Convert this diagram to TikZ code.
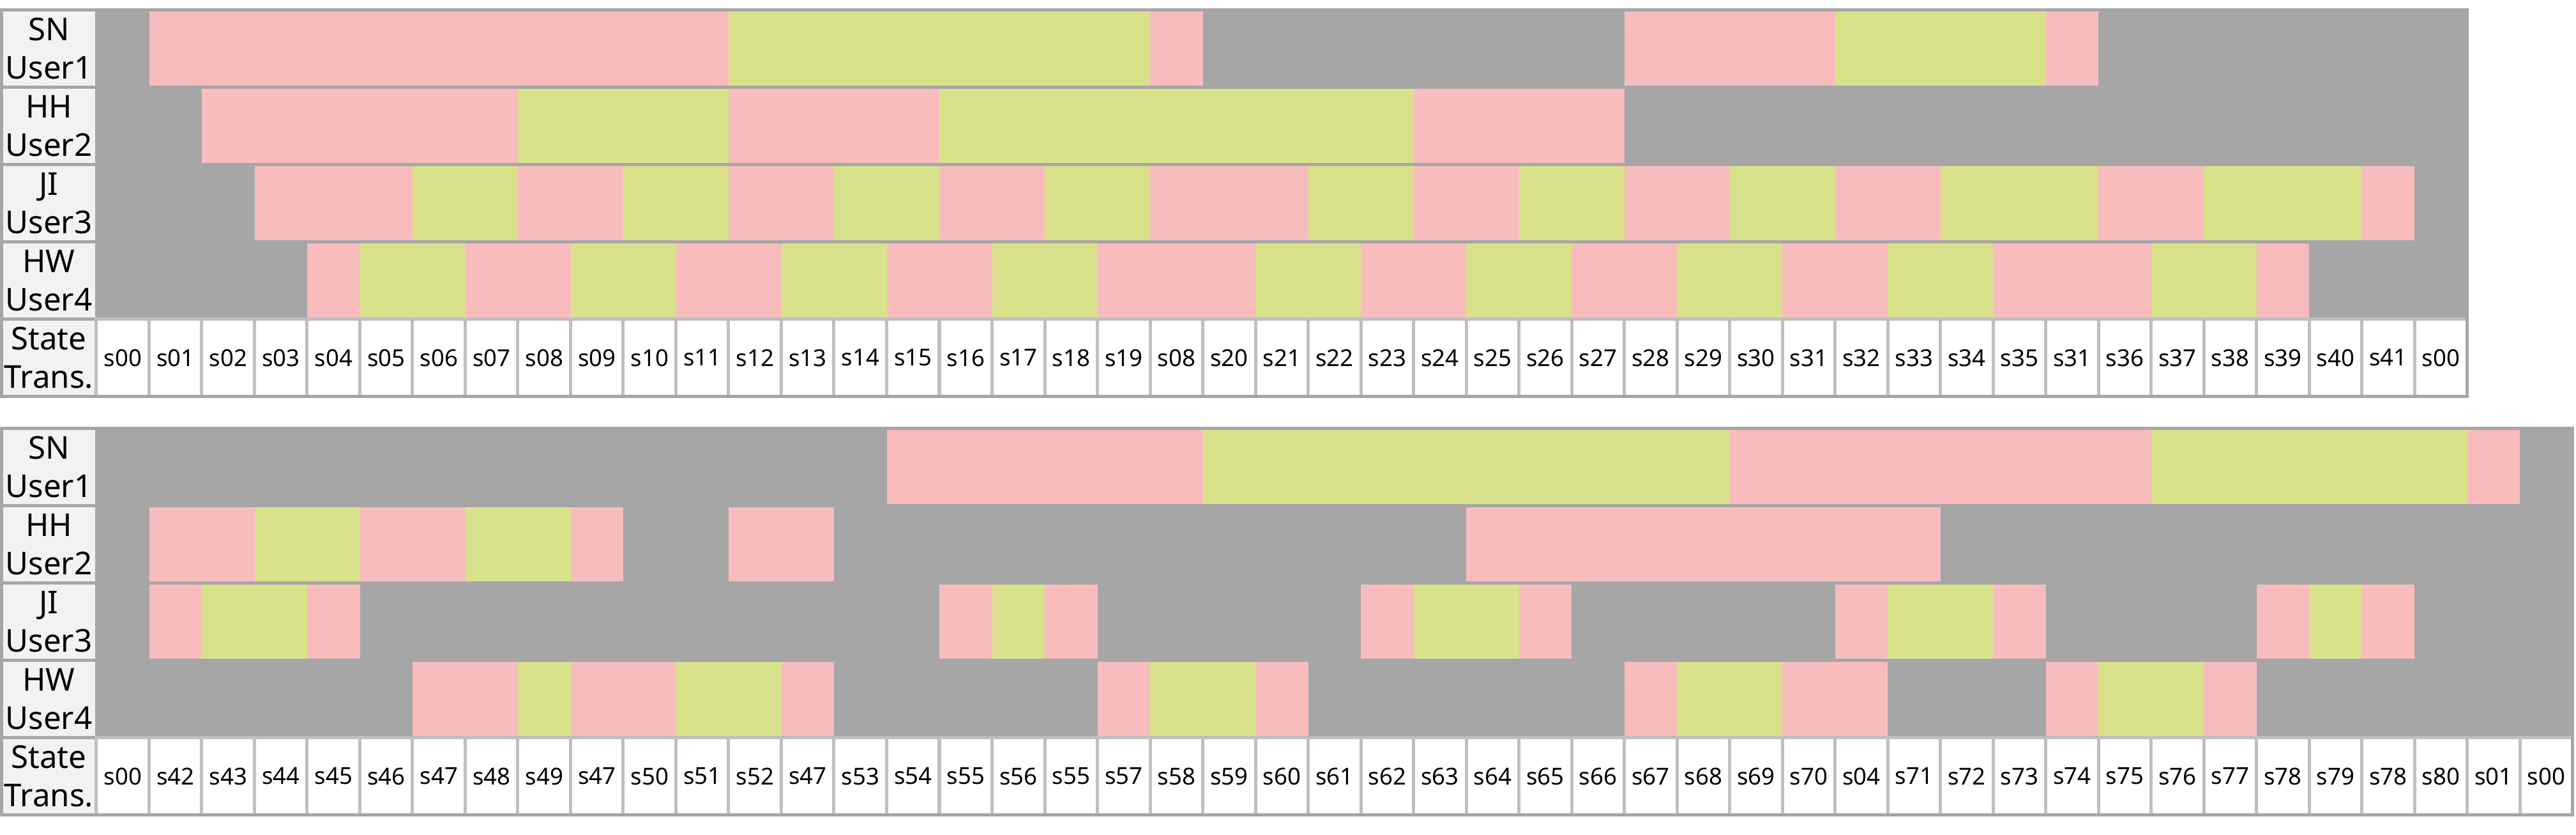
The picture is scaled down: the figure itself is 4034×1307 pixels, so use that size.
\documentclass[tikz,border=0pt]{standalone}
\usepackage{fontspec}
\setmainfont{Noto Sans}
\definecolor{chgray}{HTML}{A6A6A6}
\definecolor{chpink}{HTML}{F8BCBD}
\definecolor{chgreen}{HTML}{D9E28B}
\definecolor{chlabel}{HTML}{F2F2F2}
\definecolor{chline}{HTML}{BFBFBF}
\tikzset{
  userlbl/.style={draw=chgray, fill=chlabel, line width=0.05cm, inner sep=0pt,
    minimum width=1.49cm, minimum height=1.21cm, align=center,
    font=\fontsize{14pt}{17pt}\selectfont},
  statecell/.style={draw=chline, fill=white, line width=0.05cm, inner sep=0pt,
    minimum width=0.825cm, minimum height=1.21cm,
    font=\fontsize{10.4pt}{12pt}\selectfont},
  pk/.style={fill=chpink},
  gn/.style={fill=chgreen},
  frame/.style={draw=chgray, line width=0.05cm},
}

\begin{document}
\begin{tikzpicture}[x=0.01cm, y=-0.01cm]
  \useasboundingbox (0,0) rectangle (4034,1307);
  % top chart
  \fill[chgray] (151,15.5) rectangle (3863.5,499.5);
  \foreach \r/\a/\b/\c in {0/1/12/pk, 0/12/20/gn, 0/20/21/pk, 0/29/33/pk, 0/33/37/gn, 0/37/38/pk,
      1/2/8/pk, 1/8/12/gn, 1/12/16/pk, 1/16/25/gn, 1/25/29/pk,
      2/3/6/pk, 2/6/8/gn, 2/8/10/pk, 2/10/12/gn, 2/12/14/pk, 2/14/16/gn, 2/16/18/pk,
      2/18/20/gn, 2/20/23/pk, 2/23/25/gn, 2/25/27/pk, 2/27/29/gn, 2/29/31/pk, 2/31/33/gn,
      2/33/35/pk, 2/35/38/gn, 2/38/40/pk, 2/40/43/gn, 2/43/44/pk,
      3/4/5/pk, 3/5/7/gn, 3/7/9/pk, 3/9/11/gn, 3/11/13/pk, 3/13/15/gn, 3/15/17/pk,
      3/17/19/gn, 3/19/22/pk, 3/22/24/gn, 3/24/26/pk, 3/26/28/gn, 3/28/30/pk, 3/30/32/gn,
      3/32/34/pk, 3/34/36/gn, 3/36/39/pk, 3/39/41/gn, 3/41/42/pk} {
    \fill[\c] ({151+82.5*\a},{18+121*\r}) rectangle ({151+82.5*\b},{134+121*\r});
  }
  \foreach \u [count=\i from 0] in {{SN\\User1},{HH\\User2},{JI\\User3},{HW\\User4},{State\\Trans.}} {
    \node[userlbl] (tl\i) at (76.5,{76+121*\i}) {\u};
  }
  \foreach \s [count=\i from 0] in {s00,s01,s02,s03,s04,s05,s06,s07,s08,s09,s10,s11,s12,s13,s14,
      s15,s16,s17,s18,s19,s08,s20,s21,s22,s23,s24,s25,s26,s27,s28,s29,s30,s31,s32,s33,s34,s35,
      s31,s36,s37,s38,s39,s40,s41,s00} {
    \node[statecell] (ts\i) at ({192.25+82.5*\i},560) {\s};
  }
  \draw[frame] (2,15.5) rectangle (3863.5,620.5);

  % bottom chart
  \fill[chgray] (151,670.5) rectangle (4028.5,1154.5);
  \foreach \r/\a/\b/\c in {0/15/21/pk, 0/21/31/gn, 0/31/39/pk, 0/39/45/gn, 0/45/46/pk,
      1/1/3/pk, 1/3/5/gn, 1/5/7/pk, 1/7/9/gn, 1/9/10/pk, 1/12/14/pk, 1/26/35/pk,
      2/1/2/pk, 2/2/4/gn, 2/4/5/pk, 2/16/17/pk, 2/17/18/gn, 2/18/19/pk, 2/24/25/pk,
      2/25/27/gn, 2/27/28/pk, 2/33/34/pk, 2/34/36/gn, 2/36/37/pk, 2/41/42/pk, 2/42/43/gn,
      2/43/44/pk,
      3/6/8/pk, 3/8/9/gn, 3/9/11/pk, 3/11/13/gn, 3/13/14/pk, 3/19/20/pk, 3/20/22/gn,
      3/22/23/pk, 3/29/30/pk, 3/30/32/gn, 3/32/34/pk, 3/37/38/pk, 3/38/40/gn, 3/40/41/pk} {
    \fill[\c] ({151+82.5*\a},{673+121*\r}) rectangle ({151+82.5*\b},{789+121*\r});
  }
  \foreach \u [count=\i from 0] in {{SN\\User1},{HH\\User2},{JI\\User3},{HW\\User4},{State\\Trans.}} {
    \node[userlbl] (bl\i) at (76.5,{731+121*\i}) {\u};
  }
  \foreach \s [count=\i from 0] in {s00,s42,s43,s44,s45,s46,s47,s48,s49,s47,s50,s51,s52,s47,s53,
      s54,s55,s56,s55,s57,s58,s59,s60,s61,s62,s63,s64,s65,s66,s67,s68,s69,s70,s04,s71,s72,s73,
      s74,s75,s76,s77,s78,s79,s78,s80,s01,s00} {
    \node[statecell] (bs\i) at ({192.25+82.5*\i},1215) {\s};
  }
  \draw[frame] (2,670.5) rectangle (4028.5,1275.5);
\end{tikzpicture}
\end{document}
